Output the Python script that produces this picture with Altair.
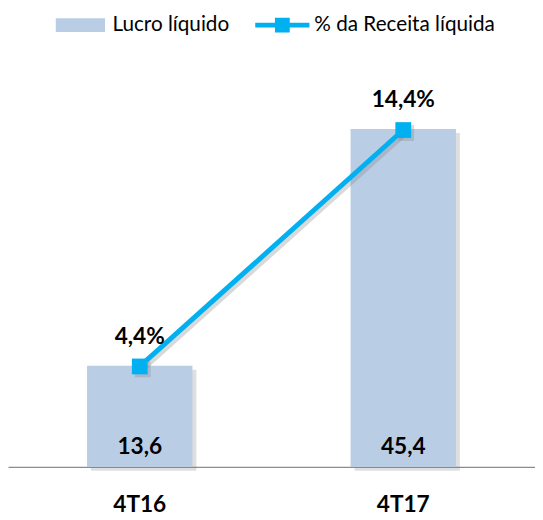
import altair as alt
import pandas as pd

periods = ["4T16", "4T17"]
lucro = [13.6, 45.4]
pct = [4.4, 14.4]
lucro_labels = ["13,6", "45,4"]
pct_labels = ["4,4%", "14,4%"]
zero_base = [0, 0]

df = pd.DataFrame({
    "periodo": periods,
    "lucro": lucro,
    "pct": pct,
    "base0": zero_base,
    "lucro_lbl": lucro_labels,
    "pct_lbl": pct_labels,
    "s1": ["Lucro líquido"] * 2,
    "s2": ["% da Receita líquida"] * 2,
})

FONT = "Lato"
BAR = "#b9cde5"
LINE = "#00b0f0"
LBL = 23

x = alt.X("periodo:N", sort=periods, title=None,
          scale=alt.Scale(paddingInner=0.6, paddingOuter=0.3),
          axis=alt.Axis(labelAngle=0, labelFont=FONT, labelFontSize=LBL, labelFontWeight="bold",
                        labelColor="#000", ticks=False, domain=True, domainColor="#8c8c8c",
                        domainWidth=1.2, labelPadding=27, grid=False))

yL = alt.Scale(domain=[0, 55.6], nice=False, zero=False)
yR = alt.Scale(domain=[0.15, 17.65], nice=False, zero=False)

base = alt.Chart(df)

bar_shadow = base.mark_bar(color="#808080", opacity=0.25, xOffset=4, yOffset=4).encode(
    x=x, y=alt.Y("lucro:Q", scale=yL, axis=None))
bars = base.mark_bar(opacity=1).encode(
    x=x, y=alt.Y("lucro:Q", scale=yL, axis=None),
    color=alt.Color("s1:N", scale=alt.Scale(range=[BAR]), title=None,
                    legend=alt.Legend(orient="none", legendX=63, legendY=-39,
                                      symbolType="M-3.571,-1H3.571V1H-3.571Z", symbolSize=196,
                                      symbolStrokeWidth=0, symbolOpacity=1,
                                      labelFont=FONT, labelFontSize=21, labelColor="#000",
                                      labelOffset=22, labelLimit=300, padding=0)))
bar_text = base.mark_text(font=FONT, fontSize=LBL, fontWeight="bold", color="#000", dy=-20).encode(
    x=x, y=alt.Y("base0:Q", scale=yL, axis=None), text="lucro_lbl:N")

left = alt.layer(bar_shadow, bars, bar_text)

line_shadow = base.mark_line(color="#808080", opacity=0.3, strokeWidth=5, xOffset=3, yOffset=3).encode(
    x=x, y=alt.Y("pct:Q", scale=yR, axis=None))
pts_shadow = base.mark_point(shape="square", size=256, filled=True, color="#808080", opacity=0.3,
                             xOffset=3, yOffset=3).encode(
    x=x, y=alt.Y("pct:Q", scale=yR, axis=None))
line = base.mark_line(strokeWidth=5, color=LINE).encode(
    x=x, y=alt.Y("pct:Q", scale=yR, axis=None))
pts = base.mark_point(shape="square", size=256, filled=True, opacity=1).encode(
    x=x, y=alt.Y("pct:Q", scale=yR, axis=None),
    color=alt.Color("s2:N", scale=alt.Scale(range=[LINE]), title=None,
                    legend=alt.Legend(orient="none", legendX=268, legendY=-39,
                                      symbolType="M-3.667,-0.333H3.667V0.333H-3.667Z M-1,-1H1V1H-1Z",
                                      symbolSize=225, symbolStrokeWidth=0, symbolOpacity=1,
                                      labelFont=FONT, labelFontSize=21, labelColor="#000",
                                      labelOffset=22, labelLimit=300, padding=0)))
pct_text = base.mark_text(font=FONT, fontSize=LBL, fontWeight="bold", color="#000", dy=-30).encode(
    x=x, y=alt.Y("pct:Q", scale=yR, axis=None), text="pct_lbl:N")

right = alt.layer(line_shadow, pts_shadow, line, pts, pct_text)

chart = (
    alt.layer(left, right)
    .resolve_scale(y="independent", color="independent")
    .properties(
        width=535, height=420,
        background="white",
        autosize=alt.AutoSizeParams(type="none"),
        padding={"left": 0, "top": 42, "right": 0, "bottom": 50},
    )
    .configure_view(strokeWidth=0, strokeOpacity=0)
    .configure_axisY(domain=False, grid=False, ticks=False)
)

chart.save("out.html", embed_options={"renderer": "svg", "actions": False})
